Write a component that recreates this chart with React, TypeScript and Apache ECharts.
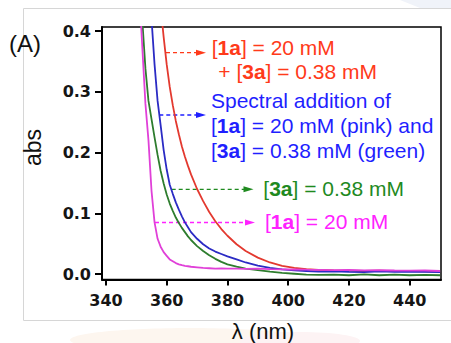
import React, { useEffect, useRef } from "react";
import * as echarts from "echarts";

// wavelengths (nm)
const wavelengths = [
  350, 351, 352, 353, 354, 355, 356, 357, 358, 359, 360, 361, 362, 363, 364, 365, 366,
  367, 368, 370, 372, 374, 376, 378, 380, 383, 386, 390, 394, 398, 402, 406, 410, 415, 420,
  425, 430, 435, 440, 445, 450,
];

// [1a] = 20 mM (pink)
const absPink = [
  0.56, 0.465, 0.37, 0.28, 0.22, 0.137, 0.085, 0.058, 0.045, 0.036, 0.03, 0.024, 0.021,
  0.018, 0.016, 0.0145, 0.0135, 0.0128, 0.012, 0.011, 0.01, 0.0095, 0.009, 0.0092, 0.0088,
  0.009, 0.0085, 0.0088, 0.008, 0.0078, 0.0075, 0.0072, 0.007, 0.0065, 0.0068, 0.006,
  0.0062, 0.0058, 0.0055, 0.0058, 0.005,
];

// [3a] = 0.38 mM (green)
const absGreen = [
  0.6, 0.5, 0.415, 0.338, 0.285, 0.255, 0.225, 0.196, 0.17, 0.149, 0.131, 0.116, 0.104,
  0.093, 0.084, 0.076, 0.069, 0.062, 0.056, 0.046, 0.038, 0.031, 0.025, 0.02, 0.016, 0.012,
  0.009, 0.0065, 0.004, 0.002, 0.0005, -0.001, -0.0015, -0.001, -0.002, -0.0005, -0.002,
  -0.001, -0.002, -0.0015, -0.002,
];

// spectral addition (blue)
const absBlue = [
  0.8, 0.7, 0.6, 0.53, 0.47, 0.42, 0.345, 0.285, 0.245, 0.204, 0.172, 0.147, 0.132, 0.118,
  0.106, 0.095, 0.085, 0.077, 0.069, 0.058, 0.049, 0.042, 0.037, 0.033, 0.029, 0.024, 0.019,
  0.014, 0.01, 0.0075, 0.006, 0.005, 0.004, 0.0045, 0.0035, 0.003, 0.0045, 0.0035, 0.004,
  0.0035, 0.003,
];

// [1a] = 20 mM + [3a] = 0.38 mM (red)
const absRed = [
  1.0, 0.9, 0.8, 0.72, 0.65, 0.59, 0.54, 0.49, 0.44, 0.39, 0.345, 0.308, 0.278, 0.252, 0.23,
  0.21, 0.193, 0.178, 0.164, 0.14, 0.12, 0.102, 0.087, 0.074, 0.063, 0.049, 0.038, 0.027,
  0.019, 0.0135, 0.01, 0.008, 0.0068, 0.006, 0.0055, 0.005, 0.0055, 0.0048, 0.005, 0.0045,
  0.004,
];

const xTicks = [340, 360, 380, 400, 420, 440];
const yTicks = [0, 0.1, 0.2, 0.3, 0.4];

const pairs = (ys: number[]) => wavelengths.map((x, i) => [x, ys[i]]);

const ANN_FONT = "'Liberation Sans', Arial, sans-serif";
const TICK_FONT = "'DejaVu Sans', sans-serif";

function label(text: string, x: number, y: number, color: string) {
  return {
    type: "text",
    x,
    y,
    style: {
      text,
      fill: color,
      fontSize: 21,
      fontFamily: ANN_FONT,
      verticalAlign: "middle",
      align: "left",
      rich: {
        b: { fontWeight: "bold", fontSize: 21, fontFamily: ANN_FONT, fill: color },
      },
    },
  };
}

function arrow(x1: number, x2: number, y: number, color: string) {
  return [
    {
      type: "line",
      shape: { x1, y1: y, x2: x2 - 8, y2: y },
      style: { stroke: color, lineWidth: 1.3, lineDash: [4, 3] },
    },
    {
      type: "polygon",
      shape: { points: [[x2 - 10, y - 3], [x2, y], [x2 - 10, y + 3]] },
      style: { fill: color },
    },
  ];
}

export default function App() {
  const ref = useRef<HTMLDivElement>(null);
  useEffect(() => {
    const chart = echarts.init(ref.current!, null, { renderer: "svg" });
    const line = (data: number[], color: string) => ({
      type: "line",
      data: pairs(data),
      symbol: "none",
      showSymbol: false,
      clip: true,
      lineStyle: { color, width: 1.8 },
      itemStyle: { color },
    });
    chart.setOption({
      animation: false,
      backgroundColor: "#ffffff",
      grid: {
        left: 102,
        right: 10,
        top: 27,
        bottom: 63.5,
        show: true,
        borderColor: "#000",
        borderWidth: 1.5,
        backgroundColor: "transparent",
      },
      xAxis: {
        type: "value",
        min: 338.7,
        max: 450.3,
        splitLine: { show: false },
        axisLine: { show: true, onZero: false, lineStyle: { color: "#000", width: 2 } },
        axisTick: {
          show: true,
          length: 6,
          customValues: xTicks,
          lineStyle: { color: "#000", width: 2 },
        },
        axisLabel: {
          customValues: xTicks,
          margin: 13,
          fontFamily: TICK_FONT,
          fontWeight: "bold",
          fontSize: 16,
          color: "#151515",
        },
      },
      yAxis: {
        type: "value",
        min: -0.009,
        max: 0.4066,
        splitLine: { show: false },
        axisLine: { show: true, onZero: false, lineStyle: { color: "#000", width: 2 } },
        axisTick: {
          show: true,
          length: 7,
          customValues: yTicks,
          lineStyle: { color: "#000", width: 2 },
        },
        axisLabel: {
          customValues: yTicks,
          margin: 11,
          fontFamily: TICK_FONT,
          fontWeight: "bold",
          fontSize: 16,
          color: "#151515",
          formatter: (v: number) => v.toFixed(1),
        },
      },
      series: [
        line(absRed, "#e3392f"),
        line(absBlue, "#2b2bc4"),
        line(absGreen, "#2e7d2e"),
        line(absPink, "#e040d8"),
      ],
      graphic: [
        {
          type: "ellipse",
          z: -20,
          shape: { cx: 190, cy: 340, rx: 120, ry: 12 },
          style: { fill: "#fdf6ef" },
        },
        {
          type: "ellipse",
          z: -20,
          shape: { cx: 300, cy: 341, rx: 60, ry: 9 },
          style: { fill: "#fdf3f4" },
        },
        {
          type: "polygon",
          z: -20,
          shape: { points: [[400, 0], [451, 0], [451, 8], [420, 8]] },
          style: { fill: "#f0f3f9" },
        },
        {
          type: "rect",
          z: -10,
          shape: { x: 23.5, y: 8.5, width: 470, height: 312 },
          style: { fill: "#ffffff", stroke: "#d6d6d6", lineWidth: 1 },
        },
        {
          type: "text",
          x: 9,
          y: 43,
          style: {
            text: "(A)",
            fill: "#111",
            fontSize: 24,
            fontFamily: ANN_FONT,
            verticalAlign: "middle",
            align: "left",
          },
        },
        {
          type: "text",
          x: 33,
          y: 147.5,
          rotation: Math.PI / 2,
          style: {
            text: "abs",
            fill: "#111",
            fontSize: 23,
            fontFamily: ANN_FONT,
            verticalAlign: "middle",
            align: "center",
          },
        },
        {
          type: "text",
          x: 263,
          y: 331,
          style: {
            text: "λ (nm)",
            fill: "#111",
            fontSize: 22,
            fontFamily: ANN_FONT,
            verticalAlign: "middle",
            align: "center",
          },
        },
        ...arrow(166, 206, 52.7, "#ff3a1a"),
        ...arrow(159.3, 206, 115, "#1f1fff"),
        ...arrow(171.7, 253.5, 189.3, "#1f8a1f"),
        ...arrow(155, 255, 222.5, "#ff22ff"),
        label("[{b|1a}] = 20 mM", 211.7, 47, "#ff3a1a"),
        label("+ [{b|3a}] = 0.38 mM", 218.3, 71.7, "#ff3a1a"),
        label("Spectral addition of", 211, 100, "#1f1fff"),
        label("[{b|1a}] = 20 mM (pink) and", 211, 125, "#1f1fff"),
        label("[{b|3a}] = 0.38 mM (green)", 211, 150, "#1f1fff"),
        label("[{b|3a}] = 0.38 mM", 263.3, 188, "#1f8a1f"),
        label("[{b|1a}] = 20 mM", 265, 221, "#ff22ff"),
      ],
    });
    return () => chart.dispose();
  }, []);
  return (
    <div
      ref={ref}
      style={{ position: "absolute", left: 0, top: 0, width: 451, height: 343 }}
    />
  );
}
